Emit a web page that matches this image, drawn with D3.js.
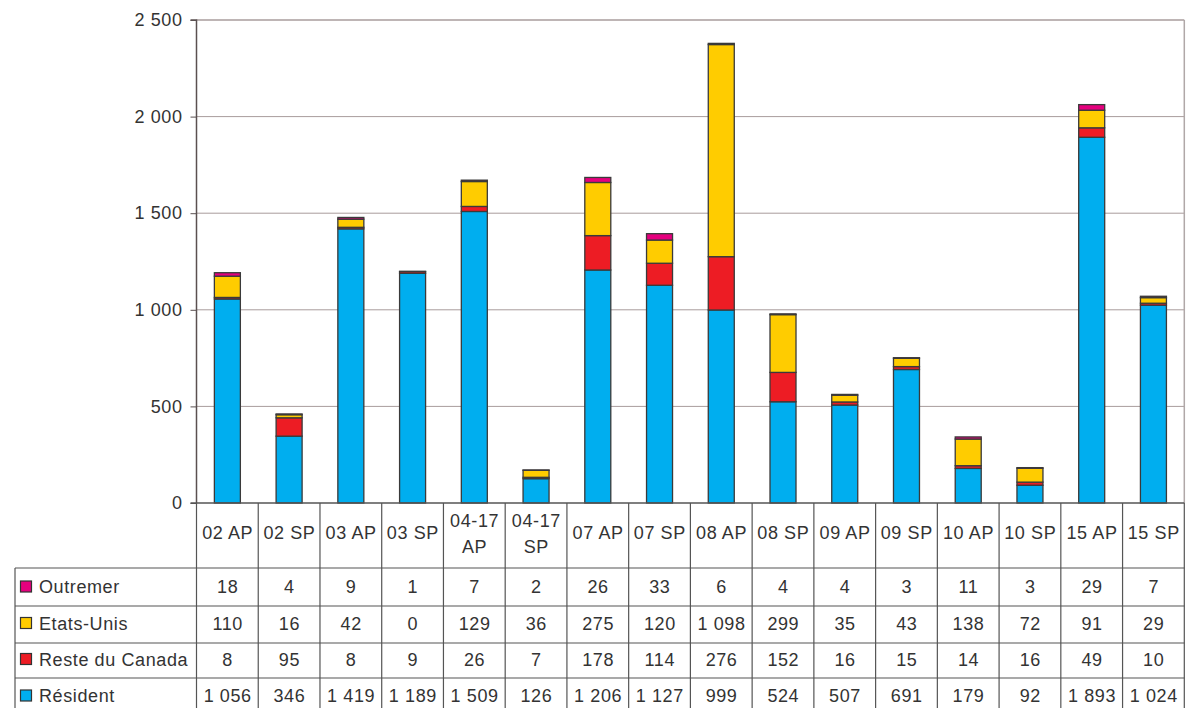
<!DOCTYPE html>
<html><head><meta charset="utf-8">
<script src="https://cdn.jsdelivr.net/npm/d3@7"></script>
<style>body{margin:0;background:#fff}svg{display:block;font-family:"Liberation Sans",Arial,sans-serif}</style>
</head><body><svg id="c" width="1195" height="708"></svg>
<script>
const categories = ["02 AP","02 SP","03 AP","03 SP","04-17 AP","04-17 SP","07 AP","07 SP","08 AP","08 SP","09 AP","09 SP","10 AP","10 SP","15 AP","15 SP"];
const resident = [1056,346,1419,1189,1509,126,1206,1127,999,524,507,691,179,92,1893,1024];
const resteCanada = [8,95,8,9,26,7,178,114,276,152,16,15,14,16,49,10];
const etatsUnis = [110,16,42,0,129,36,275,120,1098,299,35,43,138,72,91,29];
const outremer = [18,4,9,1,7,2,26,33,6,4,4,3,11,3,29,7];
const yTicks = [0,500,1000,1500,2000,2500];

(function(){
const seriesDefs = [
  {key:"Résident", values:resident, color:"#00aeef"},
  {key:"Reste du Canada", values:resteCanada, color:"#ed1c24"},
  {key:"Etats-Unis", values:etatsUnis, color:"#ffcc00"},
  {key:"Outremer", values:outremer, color:"#e5007e"}
];
const FS = 18, LS = 0.6;

const svg = d3.select("#c");
const pL = 196.5, pR = 1184.3, pT = 20, pB = 503;
const x = d3.scaleBand().domain(categories).range([pL, pR]).paddingInner(0).paddingOuter(0);
const y = d3.scaleLinear().domain([0,2500]).range([pB, pT]);
const fmt = v => d3.format(",")(v).replace(/,/g, " ");

// gridlines
svg.append("g").selectAll("line").data(yTicks.filter(t=>t>0)).join("line")
  .attr("x1", pL).attr("x2", pR).attr("y1", d=>y(d)).attr("y2", d=>y(d))
  .attr("stroke", "#a89c9c").attr("stroke-width", d=>d===2500?1.5:1);
// right border
svg.append("line").attr("x1", pR).attr("x2", pR).attr("y1", pT).attr("y2", pB)
  .attr("stroke", "#b0a8a8").attr("stroke-width", 1.5);

// stacked bars
const table = categories.map((c,i)=>{
  const o = {cat:c};
  seriesDefs.forEach(s=>o[s.key]=s.values[i]);
  return o;
});
const stack = d3.stack().keys(seriesDefs.map(s=>s.key))(table);
const bw = 26;
svg.append("g").selectAll("g").data(stack).join("g")
  .attr("fill", (d,i)=>seriesDefs[i].color)
  .selectAll("rect").data(d=>d).join("rect")
  .attr("x", d=>x(d.data.cat) + x.bandwidth()/2 - bw/2)
  .attr("width", bw)
  .attr("y", d=>y(d[1]))
  .attr("height", d=>Math.max(0, y(d[0]) - y(d[1])))
  .attr("stroke", "#3a3a3a").attr("stroke-width", 1.3);

// y axis
const yAxis = d3.axisLeft(y).tickValues(yTicks).tickSize(6).tickPadding(8).tickFormat(fmt);
const ga = svg.append("g").attr("transform", `translate(${pL},0)`).call(yAxis);
ga.select(".domain").attr("stroke", "#5a5050").attr("stroke-width", 1.5).attr("d", `M-6,${pT}H0V${pB}`);
ga.selectAll(".tick line").attr("stroke", "#5a5050");
ga.selectAll("text").attr("font-size", FS).attr("fill", "#333").attr("letter-spacing", LS)
  .attr("font-family", "Liberation Sans, Arial, sans-serif");
// baseline
svg.append("line").attr("x1", pL - 6).attr("x2", pR).attr("y1", pB).attr("y2", pB)
  .attr("stroke", "#555").attr("stroke-width", 1.5);

// data table
const rowLines = [568, 606, 643, 678];
const rowBase = [593, 629.5, 665.5, 702];
const lineCol = "#555";
const tg = svg.append("g");
const bounds = categories.map(c=>x(c)).concat([pR]);
tg.selectAll("line.v").data(bounds).join("line").attr("class","v")
  .attr("x1", d=>d).attr("x2", d=>d).attr("y1", pB).attr("y2", 708)
  .attr("stroke", lineCol).attr("stroke-width", 1.2);
tg.append("line").attr("x1", 15).attr("x2", 15).attr("y1", 568).attr("y2", 708)
  .attr("stroke", lineCol).attr("stroke-width", 1.2);
tg.selectAll("line.h").data(rowLines).join("line").attr("class","h")
  .attr("x1", 15).attr("x2", pR).attr("y1", d=>d).attr("y2", d=>d)
  .attr("stroke", lineCol).attr("stroke-width", 1.2);

const cxOf = c => x(c) + x.bandwidth()/2 + LS/2;
// header labels
const hdr = tg.selectAll("text.hdr").data(categories).join("text").attr("class","hdr")
  .attr("text-anchor","middle").attr("font-size", FS).attr("letter-spacing", LS).attr("fill", "#333");
hdr.each(function(c){
  const t = d3.select(this);
  const parts = c.startsWith("04-17") ? ["04-17", c.slice(6)] : [c];
  const cx = cxOf(c);
  if (parts.length === 1) {
    t.append("tspan").attr("x", cx).attr("y", 539).text(parts[0]);
  } else {
    t.append("tspan").attr("x", cx).attr("y", 527).text(parts[0]);
    t.append("tspan").attr("x", cx).attr("y", 553).text(parts[1]);
  }
});

// rows: top to bottom
const rows = [seriesDefs[3], seriesDefs[2], seriesDefs[1], seriesDefs[0]];
rows.forEach((s, r)=>{
  const b = rowBase[r];
  tg.append("rect").attr("x", 20.5).attr("y", b - 12).attr("width", 11).attr("height", 11)
    .attr("fill", s.color).attr("stroke", "#333").attr("stroke-width", 1.2);
  tg.append("text").attr("x", 39).attr("y", b).attr("font-size", FS).attr("letter-spacing", LS)
    .attr("fill", "#333").text(s.key);
  tg.append("g").selectAll("text").data(s.values).join("text")
    .attr("x", (d,i)=>cxOf(categories[i])).attr("y", b)
    .attr("text-anchor","middle").attr("font-size", FS).attr("letter-spacing", LS).attr("fill", "#333")
    .text(d=>fmt(d));
});
})();
</script></body></html>
